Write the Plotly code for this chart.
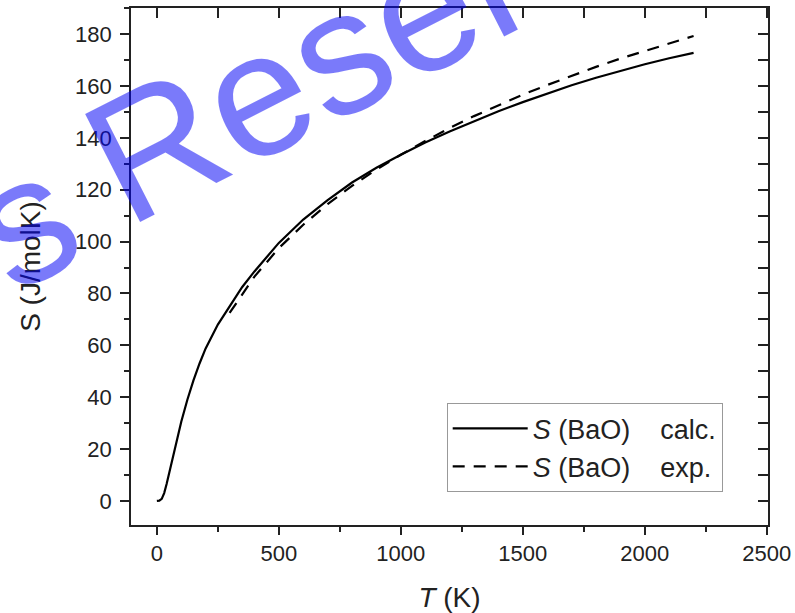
import plotly.graph_objects as go

# ---- data ----
calc_T = [0, 10, 20, 30, 40, 50, 60, 80, 100, 125, 150, 175, 200, 250, 300, 350,
          400, 500, 600, 700, 800, 900, 1000, 1100, 1200, 1300, 1400, 1500, 1600,
          1700, 1800, 1900, 2000, 2100, 2200]
calc_S = [0, 0.1, 0.8, 3.0, 6.5, 10.5, 15.0, 23.0, 30.5, 39.0, 46.5, 53.0, 58.8,
          68.0, 75.5, 82.5, 88.5, 99.5, 108.5, 116.0, 122.8, 128.5, 133.5, 138.2,
          142.5, 146.5, 150.3, 153.8, 157.2, 160.3, 163.2, 165.9, 168.4, 170.7, 172.8]

exp_T = [298.15, 400, 500, 600, 700, 800, 900, 1000, 1100, 1200, 1300, 1400, 1500,
         1600, 1700, 1800, 1900, 2000, 2100, 2200]
exp_S = [72.5, 86.5, 97.5, 106.5, 114.5, 121.5, 127.8, 133.5, 138.8, 143.8, 148.4,
         152.7, 156.7, 160.4, 164.0, 167.4, 170.6, 173.6, 176.5, 179.3]

series_names = ["<i>S</i> (BaO)&nbsp;&nbsp;&nbsp; calc.", "<i>S</i> (BaO)&nbsp;&nbsp;&nbsp; exp."]
x_title = "<i>T</i> (K)"
y_title = "S (J/molK)"
watermark_words = ["Reser", "s", "s"]

FONT = "Arial, Liberation Sans, Helvetica, sans-serif"

fig = go.Figure()
fig.add_trace(go.Scatter(x=calc_T, y=calc_S, mode="lines", name=series_names[0],
                         line=dict(color="black", width=2.2), legendgroup="a"))
fig.add_trace(go.Scatter(x=exp_T, y=exp_S, mode="lines", name=series_names[1],
                         line=dict(color="black", width=2.2, dash="12px,9px"),
                         legendgroup="b"))

axis_common = dict(showgrid=False, zeroline=False, showline=True, automargin=False,
                   linecolor="#222", linewidth=1.6, tickcolor="#222", tickwidth=1.6,
                   tickfont=dict(family=FONT, size=22, color="#222"))

XR = [-106, 2505]
YR = [-9.3, 190.1]

fig.update_layout(
    width=795, height=613,
    margin=dict(l=131, r=27, t=8, b=88, autoexpand=False),
    paper_bgcolor="white", plot_bgcolor="white",
    font=dict(family=FONT, color="#222"),
    showlegend=True,
    legend=dict(x=0.4956, y=0.2354, xanchor="left", yanchor="top",
                bgcolor="white", bordercolor="#999", borderwidth=1,
                font=dict(family=FONT, size=27, color="#222"),
                tracegroupgap=0, itemwidth=75),
    xaxis=dict(range=XR, tickvals=[0, 500, 1000, 1500, 2000, 2500],
               ticks="outside", ticklen=8,
               minor=dict(dtick=250, tick0=0, ticks="outside", ticklen=5,
                          tickcolor="#222", tickwidth=1.6),
               title=dict(text=x_title, font=dict(family=FONT, size=28, color="#222"),
                          standoff=25),
               **axis_common),
    yaxis=dict(range=YR, tickvals=list(range(0, 181, 20)),
               ticks="outside", ticklen=9, ticklabelstandoff=4,
               minor=dict(dtick=10, tick0=0, ticks="outside", ticklen=5,
                          tickcolor="#222", tickwidth=1.6),
               title=dict(text=y_title, font=dict(family=FONT, size=28, color="#222"),
                          standoff=26),
               **axis_common),
    xaxis2=dict(range=XR, overlaying="x", anchor="y", side="top",
                tick0=0, dtick=250, ticks="inside", ticklen=10,
                showticklabels=False, **axis_common),
    yaxis2=dict(range=YR, overlaying="y", anchor="x", side="right",
                tick0=0, dtick=10, ticks="inside", ticklen=10,
                showticklabels=False, **axis_common),
)

# invisible trace to bind the mirror axes
fig.add_trace(go.Scatter(x=[None], y=[None], xaxis="x2", yaxis="y2",
                         showlegend=False, hoverinfo="skip"))

wm_color = "rgba(0,0,245,0.52)"
wm_pos = [(308, 68), (23, 220), (-12, -64)]   # pixel centres of each watermark word
wm_size = [176, 178, 178]
for word, (px, py), sz in zip(watermark_words, wm_pos, wm_size):
    fig.add_annotation(text=word, xref="paper", yref="paper",
                       x=(px - 131) / 637, y=(525 - py) / 517,
                       xanchor="center", yanchor="middle", showarrow=False,
                       textangle=-27, font=dict(family=FONT, size=sz, color=wm_color))

fig.write_html("out.html")
